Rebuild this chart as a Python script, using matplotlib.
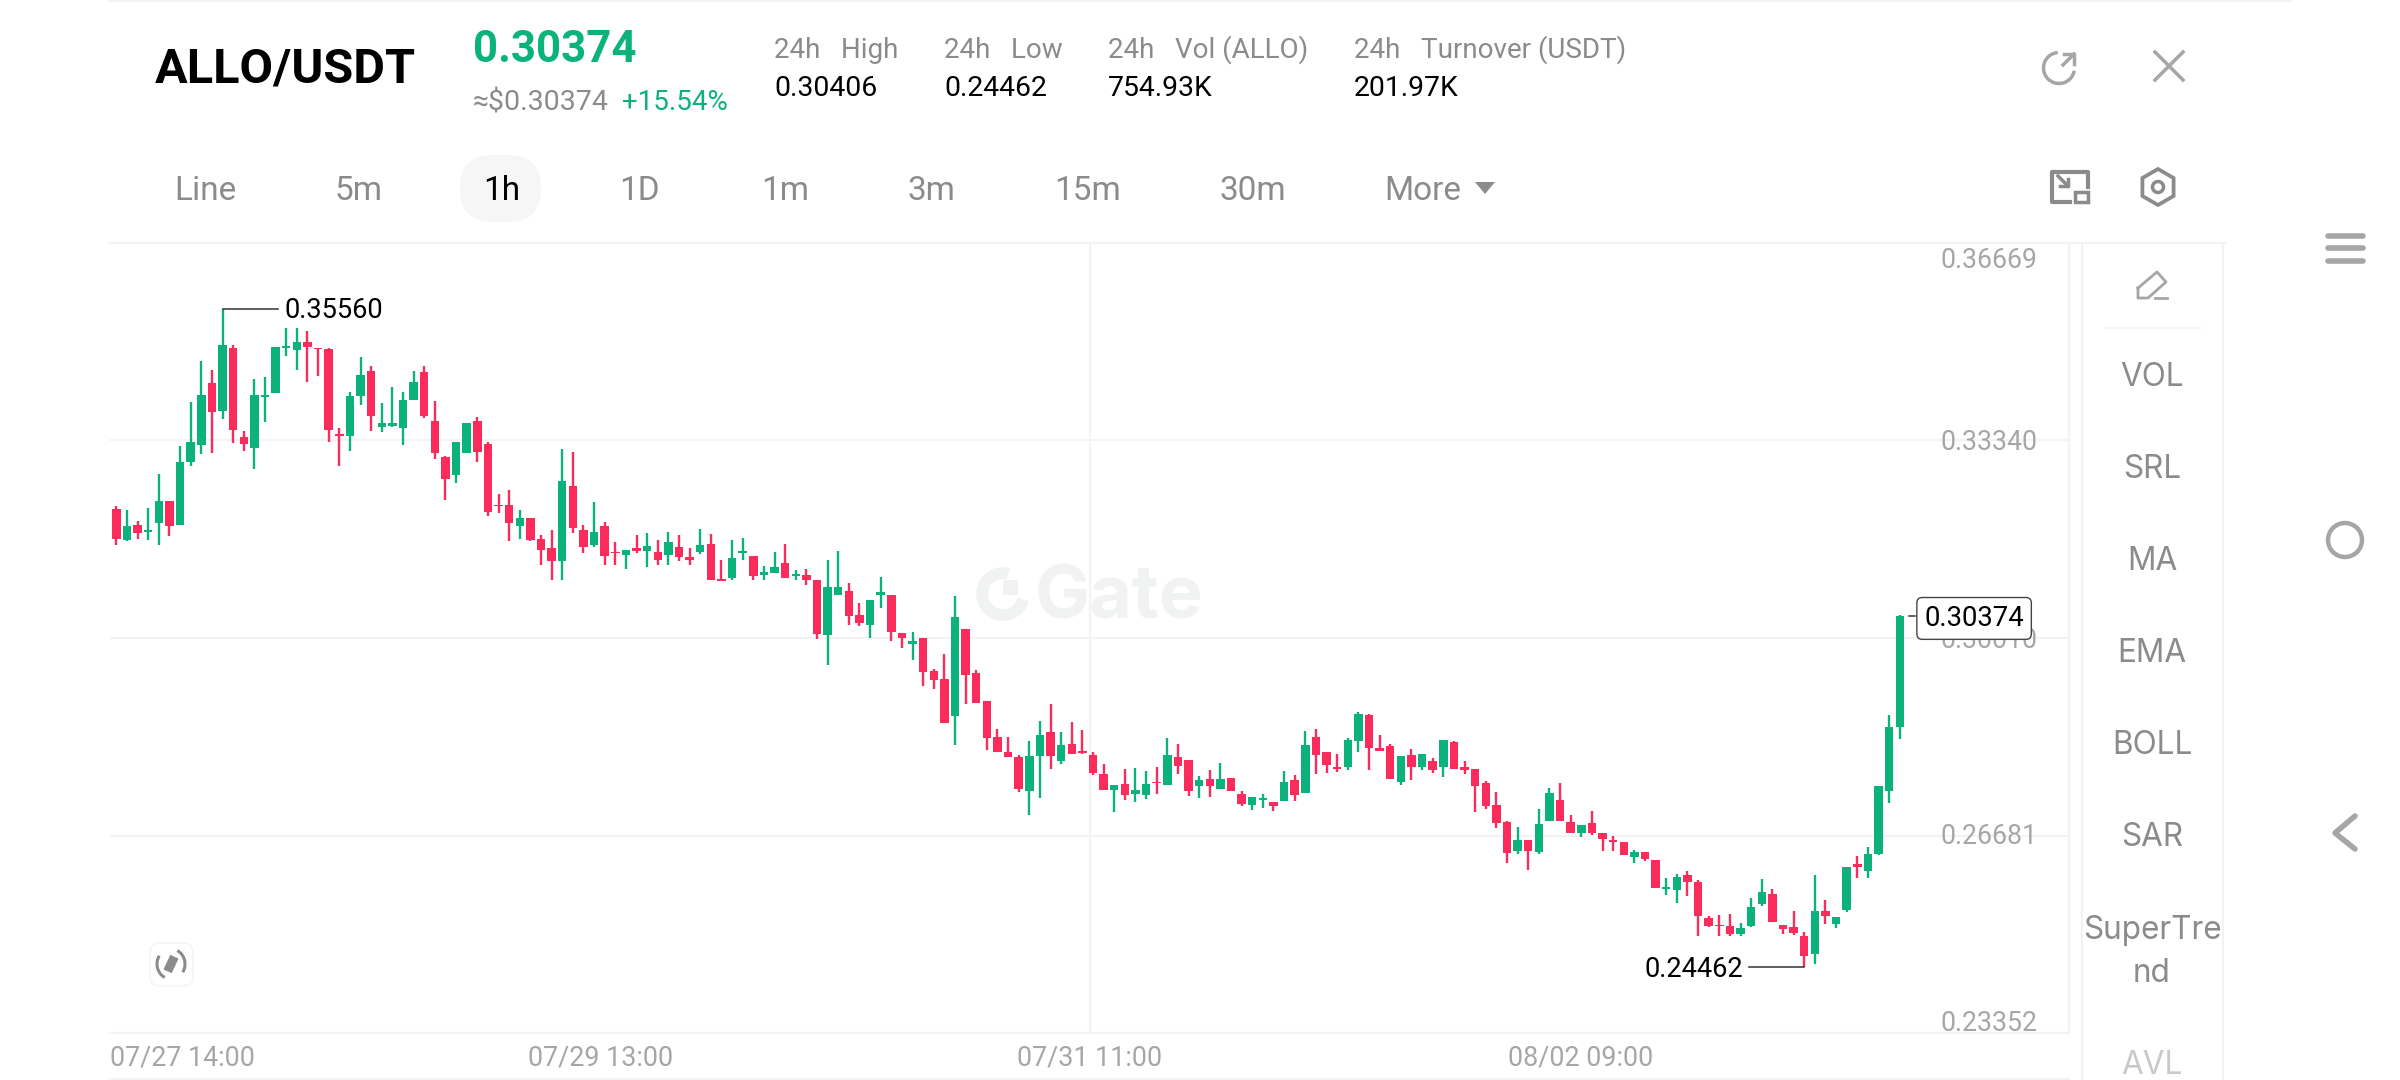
import matplotlib
matplotlib.use("Agg")
import matplotlib.pyplot as plt
import numpy as np
from matplotlib.patches import Arc, Circle, FancyBboxPatch, Polygon, Rectangle, RegularPolygon

plt.rcParams['font.family'] = ['Roboto', 'DejaVu Sans']

# 1h candles, first one is cut by the left edge
highs = [.32678,.32240,.32161,.31975,.32200,.32768,.32313,.33240,.33987,.34673,.34533,.35560,.34948,.33504,.34381,.34403,.34920,.35235,.35235,.35190,.34898,.34904,.33549,.34150,.34746,.34589,.33965,.34240,.34162,.34504,.34600,.33999,.33083,.33313,.33633,.33729,.33319,.32442,
         .32501,.32170,.32035,.31743,.31838,.33204,.33148,.31917,.32305,.31967,.31630,.31490,.31743,.31782,.31670,.31799,.31743,.31529,.31844,.31760,.31321,.31670,.31698,.31389,.31220,.31456,.31602,.31164,.31169,.30984,.31327,.31479,.30939,.30602,.30658,.31035,.30737,
         .30095,.30106,.30010,.29488,.29741,.30724,.30162,.29476,.28948,.28482,.28336,.28043,.28279,.28605,.28898,.28425,.28594,.28459,.28088,.27886,.27532,.27802,.27818,.27774,.27841,.28330,.28223,.27948,.27678,.27785,.27903,.27656,.27425,.27335,.27380,.27240,.27762,.27706,.28442,.28482,.28088,.28060,.28319,.28763,.28729,.28375,
         .28221,.28024,.28142,.28047,.27985,.28299,.28271,.27934,.27810,.27603,.27411,.26923,.26821,.26608,.27130,.27479,.27558,.27024,.26866,.27086,.26731,.26670,.26568,.26445,.26400,.26276,.25973,.26035,.26091,.25928,.25332,.25349,.25366,.25208,.25636,.25956,.25787,.25180,
         .25413,.25054,.26020,.25588,.25307,.26144,.26329,.26481,.27510,.28718,.30406]
lows = [.32172,.31571,.31638,.31678,.31655,.31571,.31723,.31914,.32903,.33116,.33128,.33701,.33296,.33156,.32858,.33645,.34139,.34757,.34521,.34325,.34431,.33307,.32903,.33167,.33942,.33493,.33487,.33572,.33262,.34027,.33712,.33026,.32330,.32616,.33133,.32976,.32071,.32116,
        .31641,.31681,.31641,.31248,.30995,.30995,.31782,.31445,.31540,.31248,.31237,.31175,.31445,.31203,.31248,.31248,.31316,.31237,.31428,.30995,.30978,.30995,.31321,.30995,.30995,.31113,.31023,.30995,.30900,.29995,.29562,.30742,.30236,.30220,.30006,.30517,.29955,
        .29842,.29645,.29207,.29156,.28572,.28206,.28903,.28909,.28128,.28083,.27998,.27414,.27032,.27307,.27807,.27880,.28055,.28055,.27695,.27453,.27071,.27273,.27245,.27296,.27375,.27537,.27723,.27346,.27318,.27330,.27470,.27431,.27183,.27105,.27150,.27088,.27262,.27262,.27397,.27723,.27734,.27745,.27790,.28083,.27790,.28099,
        .27631,.27529,.27614,.27788,.27743,.27659,.27810,.27726,.27074,.27136,.26805,.26220,.26366,.26096,.26366,.26923,.26923,.26726,.26658,.26686,.26422,.26422,.26349,.26226,.26254,.25804,.25675,.25546,.25658,.24984,.25141,.24984,.24995,.24989,.25141,.25501,.25220,.25017,
        .25003,.24462,.24514,.25183,.25127,.25385,.25958,.25958,.26352,.27234,.28308]
opens = [.32678,.32189,.31666,.31908,.31790,.31942,.32313,.31914,.32981,.33257,.34308,.33841,.34904,.33392,.33206,.34072,.34139,.34898,.34870,.34993,.34898,.34875,.33454,.33409,.34094,.34510,.33566,.33577,.33549,.34027,.34499,.33661,.33055,.32751,.33133,.33661,.33279,.32251,
         .32260,.31906,.32035,.31681,.31523,.31310,.32569,.31827,.31574,.31900,.31462,.31405,.31523,.31473,.31467,.31417,.31540,.31377,.31462,.31602,.31012,.31023,.31445,.31389,.31068,.31113,.31282,.31051,.31068,.30984,.30068,.30742,.30810,.30405,.30236,.30731,.30737,
         .30095,.29915,.30010,.29460,.29319,.28690,.30162,.29426,.28948,.28347,.28088,.27998,.27431,.28015,.28420,.27937,.28218,.28099,.28032,.27717,.27453,.27543,.27386,.27363,.27577,.27537,.28010,.27948,.27521,.27639,.27470,.27656,.27386,.27200,.27273,.27240,.27268,.27611,.27397,.28336,.28088,.27835,.27835,.28279,.28706,.28156,
         .28198,.27586,.28035,.27839,.27940,.27833,.28249,.27839,.27799,.27558,.27187,.26911,.26417,.26608,.26405,.26923,.27277,.26911,.26715,.26900,.26731,.26597,.26568,.26321,.26400,.26276,.25776,.25770,.26007,.25905,.25298,.25175,.25163,.25029,.25152,.25529,.25692,.25180,
         .25132,.24986,.24677,.25402,.25194,.25419,.26200,.26076,.26369,.27431,.28504]
closes = [.32172,.31678,.31902,.31779,.31835,.32313,.31891,.32981,.33307,.34100,.33819,.34948,.33510,.33279,.34100,.34105,.34920,.34937,.34999,.34915,.34875,.33521,.33409,.34089,.34443,.33746,.33628,.33633,.34027,.34325,.33757,.33128,.32695,.33313,.33633,.33150,.32138,.32228,
          .31951,.32035,.31670,.31501,.31304,.32653,.31866,.31552,.31799,.31389,.31445,.31490,.31484,.31568,.31321,.31625,.31383,.31321,.31574,.30995,.30978,.31360,.31484,.31051,.31130,.31214,.31023,.31091,.30995,.30085,.30877,.30877,.30377,.30265,.30658,.30787,.30118,
          .30010,.29954,.29431,.29297,.28572,.30359,.29381,.28909,.28319,.28083,.27998,.27464,.28021,.28380,.28015,.28206,.28055,.28071,.27729,.27453,.27532,.27369,.27453,.27554,.27560,.28043,.27858,.27431,.27622,.27509,.27639,.27431,.27212,.27335,.27318,.27172,.27582,.27363,.28201,.28032,.27875,.27807,.28285,.28735,.28150,.28111,
          .27642,.28024,.27839,.28047,.27777,.28288,.27810,.27777,.27524,.27175,.26889,.26383,.26602,.26428,.26883,.27400,.26923,.26726,.26866,.26715,.26619,.26568,.26349,.26405,.26293,.25804,.25815,.25984,.25900,.25321,.25158,.25158,.25017,.25130,.25478,.25731,.25220,.25102,
          .25031,.24643,.25408,.25329,.25307,.26144,.26150,.26374,.27510,.28504,.30374]

y_ticks = [0.36669, 0.33340, 0.30010, 0.26681, 0.23352]
y_labels = ['0.36669', '0.33340', '0.30010', '0.26681', '0.23352']
y_offsets = [-18, -2, -2, -1, 10]
date_ticks = [-0.6, 45.6, 91.7, 137.9]
date_labels = ['07/27 14:00', '07/29 13:00', '07/31 11:00', '08/02 09:00']
tabs = ['Line', '5m', '1h', '1D', '1m', '3m', '15m', '30m', 'More']
tab_x = [205, 359, 502, 640, 785, 931, 1088, 1253, 1423]
stat_heads = ['24h   High', '24h   Low', '24h   Vol (ALLO)', '24h   Turnover (USDT)']
stat_vals = ['0.30406', '0.24462', '754.93K', '201.97K']
stat_x = [774, 944, 1108, 1354]
side_items = ['VOL', 'SRL', 'MA', 'EMA', 'BOLL', 'SAR', 'SuperTre', 'nd']
side_y = [378, 470, 562, 654, 746, 838, 930, 973]

GREEN = '#0bb27c'
RED = '#fb2b5b'
GRAY = '#8b8b8b'
LIGHT = '#a6a6a6'
LINE = '#f3f3f3'
MARK = '#f1f2f2'

fig = plt.figure(figsize=(24, 10.8), dpi=100, facecolor='white')

# main chart
ax = fig.add_axes([110/2400, 1-1033/1080, (2069-110)/2400, 790/1080])
ax.set_xlim(-0.593, 183.94)
ax.set_ylim(y_ticks[-1], y_ticks[0])
x = np.arange(len(opens)) - 1
o = np.array(opens)
c = np.array(closes)
colors = [GREEN if c[i] >= o[i] else RED for i in range(len(o))]

ax.hlines(y_ticks, -0.593, 183.94, color=LINE, lw=1.5, zorder=1)
ax.axvline(91.7, color=LINE, lw=1.5, zorder=1)
ax.vlines(x, lows, highs, color=colors, lw=1.7, zorder=3)
ax.bar(x, np.abs(c-o), bottom=np.minimum(o, c), width=0.8, color=colors, lw=0, zorder=3)

for s in ax.spines.values():
    s.set_color(LINE)
    s.set_linewidth(1.5)
ax.spines['left'].set_visible(False)
ax.set_yticks([])
ax.set_xticks(date_ticks)
ax.set_xticklabels(date_labels, fontsize=19.4, color=LIGHT)
ax.tick_params(axis='x', length=0, pad=8)
ax.get_xticklabels()[0].set_ha('left')

for v, lab, off in zip(y_ticks, y_labels, y_offsets):
    ax.annotate(lab, xy=(1, v), xycoords=('axes fraction', 'data'), xytext=(-32, off),
                textcoords='offset pixels', ha='right', va='center', fontsize=19.2, color=LIGHT, zorder=4)

# high, low and last price
i_high = int(np.argmax(highs))
i_low = int(np.argmin(lows))
ax.plot([x[i_high], x[i_high]+5.2], [highs[i_high]]*2, color='#333333', lw=1.1, zorder=4)
ax.annotate('0.35560', xy=(x[i_high]+5.8, highs[i_high]), xytext=(0, -2), textcoords='offset pixels',
            ha='left', va='center', fontsize=19.6, color='black', zorder=5)
ax.plot([x[i_low], x[i_low]-5.2], [lows[i_low]]*2, color='#333333', lw=1.1, zorder=4)
ax.annotate('0.24462', xy=(x[i_low]-5.8, lows[i_low]), xytext=(0, -2), textcoords='offset pixels',
            ha='right', va='center', fontsize=19.6, color='black', zorder=5)
ax.plot([x[-1]+0.9, x[-1]+1.4], [closes[-1]]*2, color='#333333', lw=1.1, zorder=4)
ax.annotate('0.30374', xy=(x[-1]+7.0, closes[-1]), xytext=(0, -2), textcoords='offset pixels',
            ha='center', va='center', fontsize=19.8, color='black', zorder=6,
            bbox=dict(boxstyle='round,pad=0.27,rounding_size=0.2', fc='white', ec='#444444', lw=1))

# everything around the chart, in screen pixels
ui = fig.add_axes([0, 0, 1, 1], facecolor='none')
ui.set_xlim(0, 2400)
ui.set_ylim(1080, 0)
ui.axis('off')
ui.set_zorder(-1)
ax.set_zorder(1)
ax.patch.set_alpha(0)

ui.plot([110, 2290], [0, 0], color=LINE, lw=3)
ui.plot([110, 2225], [243, 243], color=LINE, lw=1.5)
ui.plot([110, 2069], [1079, 1079], color=LINE, lw=1.5)
ui.plot([2082, 2082], [243, 1080], color=LINE, lw=1.5)
ui.plot([2223, 2223], [243, 1080], color=LINE, lw=1.5)
ui.plot([2105, 2200], [328, 328], color=LINE, lw=1.5)

# watermark logo and name
ui.add_patch(Arc((1003, 594), 42, 42, theta1=15, theta2=285, color=MARK, lw=8.5))
ui.add_patch(Rectangle((1003, 580), 15, 15, color=MARK, lw=0))
ui.text(1119, 599, 'Gate', fontsize=53, fontweight='bold', family=['Inter', 'DejaVu Sans'], color=MARK, ha='center', va='center')

# header
ui.text(155, 70, 'ALLO/USDT', fontsize=35, fontweight='bold', color='black', ha='left', va='center')
ui.text(473, 50, '0.30374', fontsize=31.5, fontweight='bold', color=GREEN, ha='left', va='center')
ui.text(473, 103, '≈$0.30374', fontsize=20.5, color=GRAY, ha='left', va='center')
ui.text(622, 103, '+15.54%', fontsize=20, color=GREEN, ha='left', va='center')
for sx, h, v in zip(stat_x, stat_heads, stat_vals):
    ui.text(sx, 50, h, fontsize=20, color=GRAY, ha='left', va='center')
    ui.text(sx, 89, v, fontsize=20.4, color='black', ha='left', va='center')

# interval tabs
ui.add_patch(FancyBboxPatch((460, 155), 81, 67, boxstyle='round,pad=0,rounding_size=33', fc='#f6f6f6', ec='none'))
for tx, t in zip(tab_x, tabs):
    ui.text(tx, 191, t, fontsize=24, color='black' if t == '1h' else GRAY, ha='center', va='center')
ui.add_patch(Polygon([[1475, 182], [1495, 182], [1485, 194]], color=GRAY, lw=0))

# side panel
ui.plot([2138, 2157, 2166, 2148, 2138, 2138], [288, 272, 282, 298, 298, 288], color=LIGHT, lw=2)
ui.plot([2155, 2167], [298, 298], color=LIGHT, lw=2)
for sy, t in zip(side_y, side_items):
    ui.text(2152, sy, t, fontsize=22.7, family=['Inter', 'DejaVu Sans'], color=GRAY, ha='center', va='center')
ui.text(2152, 1065, 'AVL', fontsize=22.7, family=['Inter', 'DejaVu Sans'], color='#c9c9c9', ha='center', va='center')

# top right icons
ui.add_patch(Arc((2059, 68), 31, 31, theta1=10, theta2=265, color=LIGHT, lw=2.5))
ui.plot([2063, 2074], [65, 54], color=LIGHT, lw=2.5)
ui.plot([2064, 2074, 2074], [54, 54, 64], color=LIGHT, lw=2.5)
ui.plot([2155, 2183], [52, 80], color=LIGHT, lw=2.5)
ui.plot([2155, 2183], [80, 52], color=LIGHT, lw=2.5)
ui.plot([2070, 2052, 2052, 2088, 2088], [202, 202, 172, 172, 187], color=GRAY, lw=3)
ui.add_patch(Rectangle((2075, 192), 13, 10, fc='none', ec=GRAY, lw=2.5))
ui.plot([2058, 2068], [176, 186], color=GRAY, lw=2.5)
ui.plot([2060, 2068, 2068], [186, 186, 179], color=GRAY, lw=2.5)
ui.add_patch(RegularPolygon((2158, 187), 6, radius=18, fc='none', ec=GRAY, lw=2.7))
ui.add_patch(Circle((2158, 187), 5.5, fc='none', ec=GRAY, lw=2.5))

# rotate button
ui.add_patch(FancyBboxPatch((150, 943), 43, 43, boxstyle='round,pad=0,rounding_size=10', fc='white', ec='#f6f6f6', lw=1.5))
ui.add_patch(Polygon([[170.3, 954.8], [178.5, 958.6], [171.7, 973.2], [163.5, 969.4]], color=GRAY, lw=0))
ui.add_patch(Arc((171, 964), 28, 30, theta1=115, theta2=215, color=GRAY, lw=2.2))
ui.add_patch(Arc((171, 964), 28, 30, theta1=-65, theta2=35, color=GRAY, lw=2.2))

# phone nav buttons
for ny in [236, 248, 261]:
    ui.plot([2328, 2363], [ny, ny], color=LIGHT, lw=4, solid_capstyle='round')
ui.add_patch(Circle((2345, 540), 17, fc='none', ec=LIGHT, lw=3.2))
ui.plot([2355, 2335, 2355], [816, 833, 849], color=LIGHT, lw=4, solid_capstyle='round', solid_joinstyle='round')

fig.savefig('out.png', dpi=100, facecolor='white')
